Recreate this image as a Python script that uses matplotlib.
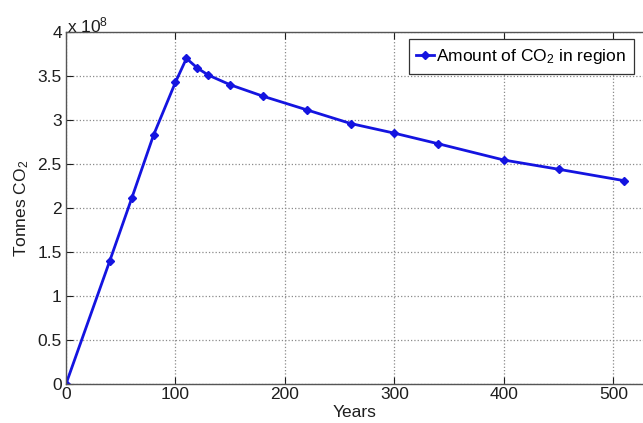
import matplotlib
matplotlib.use("Agg")
import matplotlib.pyplot as plt
from matplotlib.ticker import FuncFormatter, MultipleLocator
from matplotlib.lines import Line2D

plt.rcParams['font.family'] = ['Liberation Sans', 'DejaVu Sans']
plt.rcParams['mathtext.fontset'] = 'custom'
plt.rcParams['mathtext.rm'] = 'Liberation Sans'
plt.rcParams['mathtext.it'] = 'Liberation Sans'

# Simulated CO2 stock in the storage region (tonnes)
years = [0, 40, 60, 80, 100, 110, 120, 130, 150, 180, 220, 260, 300, 340, 400, 450, 510]
tonnes_co2 = [0.0, 1.40e8, 2.11e8, 2.83e8, 3.43e8, 3.70e8, 3.59e8, 3.51e8, 3.40e8,
              3.27e8, 3.115e8, 2.96e8, 2.85e8, 2.73e8, 2.545e8, 2.44e8, 2.31e8]
series_label = 'Amount of CO$_2$ in region'
x_ticks = [0, 100, 200, 300, 400, 500]

W, H = 643, 423
FS = 12.5
TEXT = '#1e1e1e'
fig = plt.figure(figsize=(W / 100, H / 100), dpi=100)
ax = fig.add_axes([66 / W, (H - 384) / H, (W - 66) / W, (384 - 32) / H])

line_color = '#1414e0'
ax.plot(years, tonnes_co2, color=line_color, linewidth=2.0, marker='D',
        markersize=4.5, markerfacecolor=line_color, markeredgecolor=line_color)

ax.set_xlim(0, 527)
ax.set_ylim(0, 4e8)
ax.set_xticks(x_ticks)
ax.yaxis.set_major_locator(MultipleLocator(0.5e8))
ax.yaxis.set_major_formatter(FuncFormatter(lambda v, p: f'{v / 1e8:g}'))

ax.grid(True, linestyle=':', color='#8a8a8a', linewidth=0.9)
ax.set_axisbelow(True)
ax.tick_params(direction='in', length=5, labelsize=FS, colors=TEXT,
               top=True, right=False)
ax.tick_params(axis='x', pad=2)
ax.tick_params(axis='y', pad=3)
for side in ('left', 'bottom', 'top'):
    ax.spines[side].set_color('#555555')
    ax.spines[side].set_linewidth(1.0)
ax.spines['right'].set_visible(False)

ax.set_xlabel('Years', fontsize=FS, labelpad=2, color=TEXT)
ax.set_ylabel('Tonnes CO$_2$', fontsize=FS, labelpad=5, color=TEXT)
fig.text(67 / W, 1 - 32 / H, r'x 10$^{8}$', fontsize=FS, color=TEXT,
         ha='left', va='baseline')

handle = Line2D([], [], color=line_color, linewidth=2.0, marker='D', markersize=4)
leg = ax.legend([handle], [series_label], loc='upper right',
                bbox_to_anchor=(634 / W, 1 - 39 / H), bbox_transform=fig.transFigure,
                fontsize=FS, frameon=True, fancybox=False, framealpha=1,
                handlelength=1.0, handletextpad=0.15, borderpad=0.45,
                borderaxespad=0)
leg.get_frame().set_edgecolor('#333333')
leg.get_frame().set_linewidth(0.9)

fig.savefig('out.png', dpi=100)
